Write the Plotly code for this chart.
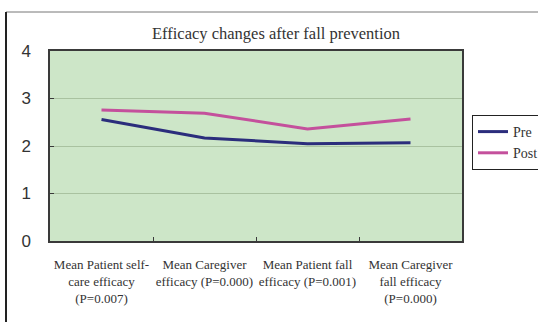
import plotly.graph_objects as go

categories = [
    "Mean Patient self-<br>care efficacy<br>(P=0.007)",
    "Mean Caregiver<br>efficacy (P=0.000)",
    "Mean Patient fall<br>efficacy (P=0.001)",
    "Mean Caregiver<br>fall efficacy<br>(P=0.000)",
]
pre_values = [2.56, 2.17, 2.05, 2.07]
post_values = [2.76, 2.69, 2.36, 2.57]
y_ticks = [0, 1, 2, 3, 4]

fig = go.Figure()
fig.add_trace(go.Scatter(x=categories, y=pre_values, mode="lines", name="Pre",
                         line=dict(color="#2b2d7c", width=3)))
fig.add_trace(go.Scatter(x=categories, y=post_values, mode="lines", name="Post",
                         line=dict(color="#c4509c", width=3)))

serif = "Liberation Serif, Times New Roman, serif"

fig.update_layout(
    width=538, height=322,
    margin=dict(l=50, r=76, t=51, b=81),
    paper_bgcolor="white",
    plot_bgcolor="#cde6c8",
    title=dict(text="Efficacy changes after fall prevention", x=276/538, xanchor="center",
               y=1 - 33/322, yanchor="middle",
               font=dict(family=serif, size=16.5, color="#333333")),
    xaxis=dict(type="category", showgrid=False, showline=True, linecolor="#3a3a3a", linewidth=1.5,
               mirror=True, ticks="inside", tickson="boundaries", ticklen=4, tickcolor="#3a3a3a",
               automargin=False, ticklabelstandoff=11, tickangle=0,
               tickfont=dict(family=serif, size=13, color="#333333"), range=[-0.5, 3.5]),
    yaxis=dict(range=[0, 4], tickvals=y_ticks, showgrid=True, gridcolor="#a9c2a0", gridwidth=1,
               showline=True, linecolor="#3a3a3a", linewidth=1.5, mirror=True,
               ticks="inside", ticklen=4, tickcolor="#3a3a3a", zeroline=False,
               ticklabelstandoff=14, automargin=False,
               tickfont=dict(family="Liberation Sans, Arial, sans-serif", size=17, color="#333333")),
    legend=dict(xref="container", yref="container", x=472/538, xanchor="left",
                y=1 - 115/322, yanchor="top",
                bordercolor="#222222", borderwidth=1, bgcolor="white",
                font=dict(family=serif, size=14, color="#333333"),
                tracegroupgap=0, itemwidth=30),
    showlegend=True,
)

# outer chart frame
fig.add_shape(type="line", xref="paper", yref="paper", x0=(6-50)/412, x1=1.3,
              y0=(241-12)/190, y1=(241-12)/190, line=dict(color="#777777", width=1))
fig.add_shape(type="line", xref="paper", yref="paper", x0=(6-50)/412, x1=(6-50)/412,
              y0=(241-12)/190, y1=-0.5, line=dict(color="#222222", width=2))

fig.write_html("out.html", config={"displayModeBar": False},
               post_script="document.body.style.margin='0';")
